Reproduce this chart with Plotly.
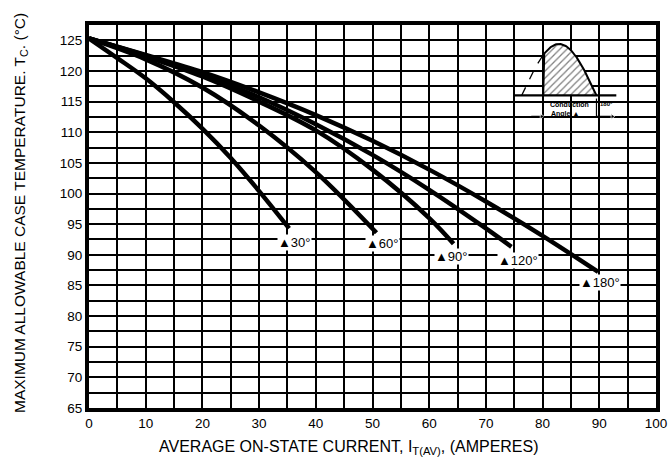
import numpy as np
import plotly.graph_objects as go

# ---- data ----
c30_x = [0, 5, 10, 15, 20, 25, 30, 35.3]
c30_y = [125.3, 122.1, 118.8, 114.9, 110.6, 105.8, 100.4, 94.3]

c60_x = [0, 10, 20, 30, 40, 50.7]
c60_y = [125.3, 121.9, 117.3, 111.1, 103.5, 93.6]

c90_x = [0, 10, 20, 30, 40, 50, 60, 64.3]
c90_y = [125.3, 122.4, 119.1, 115.0, 110.3, 103.9, 96.0, 91.8]

c120_x = [0, 10, 20, 30, 40, 50, 60, 70, 74.5]
c120_y = [125.3, 122.5, 119.4, 115.7, 111.3, 106.3, 100.6, 94.3, 91.3]

c180_x = [0, 10, 20, 30, 40, 50, 60, 70, 80, 89.8]
c180_y = [125.3, 122.6, 119.8, 116.5, 112.8, 108.6, 103.9, 98.7, 93.1, 87.2]

curve_names = ["30°", "60°", "90°", "120°", "180°"]
curves_x = [c30_x, c60_x, c90_x, c120_x, c180_x]
curves_y = [c30_y, c60_y, c90_y, c120_y, c180_y]

x_ticks = [0, 10, 20, 30, 40, 50, 60, 70, 80, 90, 100]
y_ticks = [65, 70, 75, 80, 85, 90, 95, 100, 105, 110, 115, 120, 125]

# label anchor positions (left edge of label text)
label_pos = [(33.2, 92.0), (48.6, 91.9), (60.9, 89.7), (71.9, 89.1), (86.5, 85.4)]

FONT = "Liberation Sans, Arial, Helvetica, sans-serif"

fig = go.Figure()

for xs, ys, nm in zip(curves_x, curves_y, curve_names):
    fig.add_trace(go.Scatter(x=xs, y=ys, mode="lines", name=nm,
                             line=dict(color="black", width=4.5, shape="spline", smoothing=1.0),
                             showlegend=False, hoverinfo="skip"))

# ---- inset diagram ----
base_T = 116.0
amp = 8.4
s0, s1 = 76.3, 89.5          # half sine span
cut = 80.1                   # firing point
xx = np.linspace(s0, s1, 120)
yy = base_T + amp * np.sin((xx - s0) / (s1 - s0) * np.pi)
m_dash = xx <= cut
m_solid = xx >= cut

fig.add_shape(type="rect", x0=75.35, x1=94.65, y0=110.3, y1=124.75,
              fillcolor="white", line=dict(width=0), layer="below")

hx = np.concatenate([[cut], xx[m_solid], [s1]])
hy = np.concatenate([[base_T], yy[m_solid], [base_T]])
fig.add_trace(go.Scatter(x=hx, y=hy, mode="lines", fill="toself",
                         fillcolor="white",
                         fillpattern=dict(shape="/", fgcolor="black", bgcolor="white", size=5, solidity=0.25),
                         line=dict(color="black", width=2), showlegend=False, hoverinfo="skip"))
fig.add_trace(go.Scatter(x=xx[m_dash], y=yy[m_dash], mode="lines",
                         line=dict(color="black", width=1.3, dash="dash"),
                         showlegend=False, hoverinfo="skip"))
fig.add_shape(type="line", x0=75.0, x1=93.0, y0=base_T, y1=base_T,
              line=dict(color="black", width=2.2))
fig.add_shape(type="line", x0=cut, x1=cut, y0=115.5, y1=112.4,
              line=dict(color="black", width=1.2, dash="dot"))
fig.add_shape(type="line", x0=s1, x1=s1, y0=115.5, y1=112.4,
              line=dict(color="black", width=1.2))
fig.add_trace(go.Scatter(x=[78.0, cut - 0.3], y=[112.6, 112.6], mode="lines+markers",
                         line=dict(color="black", width=1.1),
                         marker=dict(symbol=["line-ns", "triangle-right"], size=[0, 5], color="black"),
                         showlegend=False, hoverinfo="skip"))
fig.add_trace(go.Scatter(x=[s1, 92.3], y=[112.6, 112.6], mode="lines+markers",
                         line=dict(color="black", width=1.1),
                         marker=dict(symbol=["line-ns", "triangle-right"], size=[0, 5], color="black"),
                         showlegend=False, hoverinfo="skip"))
fig.add_annotation(x=84.7, y=115.5, text="<b>Conduction</b>", showarrow=False,
                   font=dict(family=FONT, size=7, color="black"), xanchor="center", yanchor="top")
fig.add_annotation(x=84.0, y=113.0, text="<b>Angle ▲</b>", showarrow=False,
                   font=dict(family=FONT, size=7, color="black"), xanchor="center", yanchor="middle")
fig.add_annotation(x=91.2, y=115.5, text="<b>180°</b>", showarrow=False,
                   font=dict(family=FONT, size=6, color="black"), xanchor="center", yanchor="top")

# ---- curve labels ----
for (lx, ly), nm in zip(label_pos, curve_names):
    fig.add_annotation(x=lx, y=ly, text="▲" + nm, showarrow=False, xanchor="left", yanchor="middle",
                       font=dict(family=FONT, size=13, color="black"), bgcolor="white", borderpad=0)

# ---- axis titles (as paper annotations for exact placement) ----
W, H = 669, 463
ML, MR, MT, MB = 89, 13, 25, 55
pw, ph = W - ML - MR, H - MT - MB
fig.add_annotation(xref="paper", yref="paper", x=(349 - ML) / pw, y=(H - MB - 447) / ph,
                   text="AVERAGE ON-STATE CURRENT, I<sub>T(AV)</sub>, (AMPERES)", showarrow=False,
                   xanchor="center", yanchor="middle", font=dict(family=FONT, size=16, color="black"))
fig.add_annotation(xref="paper", yref="paper", x=(20 - ML) / pw, y=(H - MB - 213) / ph,
                   text="MAXIMUM ALLOWABLE CASE TEMPERATURE. T<sub>C</sub>. (°C)", showarrow=False,
                   textangle=-90, xanchor="center", yanchor="middle",
                   font=dict(family=FONT, size=15.5, color="black"))

grid_w = 1.6
fig.update_xaxes(range=[0, 100], tickvals=x_ticks, ticktext=[str(v) for v in x_ticks],
                 showgrid=True, gridcolor="black", gridwidth=grid_w,
                 minor=dict(dtick=5, showgrid=True, gridcolor="black", gridwidth=grid_w),
                 showline=True, linecolor="black", linewidth=4, mirror=True,
                 ticks="", zeroline=False, automargin=False, ticklabeloverflow="allow",
                 tickfont=dict(family=FONT, size=13.5, color="black"))
fig.update_yaxes(range=[65, 127.5], tickvals=y_ticks, ticktext=[str(v) for v in y_ticks],
                 showgrid=True, gridcolor="black", gridwidth=grid_w,
                 minor=dict(dtick=2.5, showgrid=True, gridcolor="black", gridwidth=grid_w),
                 showline=True, linecolor="black", linewidth=4, mirror=True,
                 ticks="", zeroline=False, automargin=False,
                 tickfont=dict(family=FONT, size=13.5, color="black"))

fig.update_layout(width=W, height=H, paper_bgcolor="white", plot_bgcolor="white",
                  margin=dict(l=ML, r=MR, t=MT, b=MB), showlegend=False)

# remove the browser's default 8px body margin so the figure fills the window exactly
fig.write_html("out.html", config={"displayModeBar": False},
               post_script="document.body.style.margin='0';document.body.style.overflow='hidden';")
